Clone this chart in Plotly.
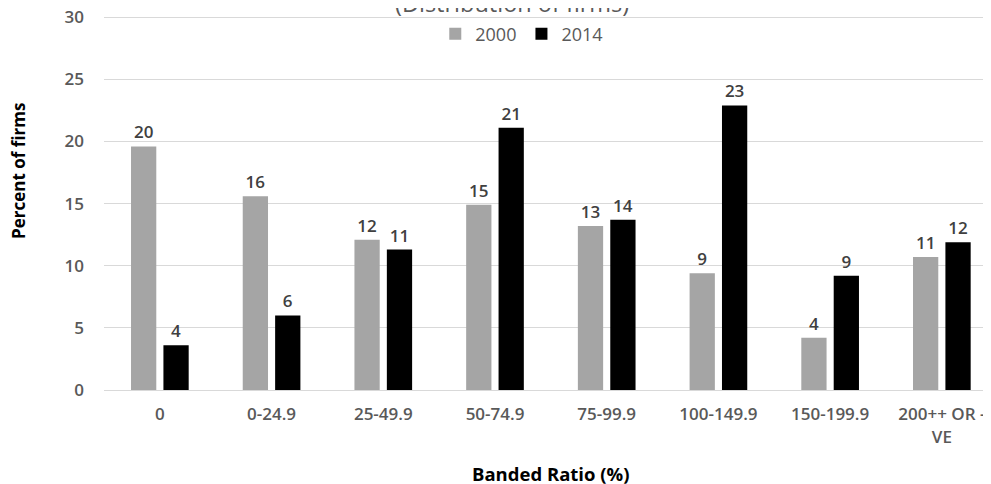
import plotly.graph_objects as go

categories = ["0", "0-24.9", "25-49.9", "50-74.9", "75-99.9", "100-149.9", "150-199.9", "200++ OR -<br>VE"]
values_2000 = [19.6, 15.6, 12.1, 14.9, 13.2, 9.4, 4.2, 10.7]
values_2014 = [3.6, 6.0, 11.3, 21.1, 13.7, 22.9, 9.2, 11.9]
series_names = ["2000", "2014"]
y_ticks = [0, 5, 10, 15, 20, 25, 30]

FONT = "'Open Sans', 'Segoe UI', sans-serif"
xs = list(range(len(categories)))

label_font = dict(family=FONT, size=17, color="#404040", weight=600)

fig = go.Figure()
fig.add_trace(go.Bar(
    x=xs, y=values_2000, name=series_names[0],
    marker=dict(color="#a5a5a5", line=dict(width=0)),
    texttemplate="%{y:.0f}", textposition="outside", cliponaxis=False,
    textfont=label_font,
))
fig.add_trace(go.Bar(
    x=xs, y=values_2014, name=series_names[1],
    marker=dict(color="#000000", line=dict(width=0)),
    texttemplate="%{y:.0f}", textposition="outside", cliponaxis=False,
    textfont=label_font,
))

fig.update_layout(
    width=983, height=476,
    margin=dict(l=96, r=0, t=8, b=94, autoexpand=False),
    paper_bgcolor="white", plot_bgcolor="white",
    barmode="group", bargap=0.42, bargroupgap=0.22,
    font=dict(family=FONT, size=17, color="#595959"),
    showlegend=True,
    legend=dict(orientation="h", x=0.471, xanchor="center", y=0.952, yanchor="middle",
                font=dict(family=FONT, size=18, color="#595959"),
                bgcolor="rgba(0,0,0,0)", itemwidth=30, traceorder="normal"),
    xaxis=dict(
        tickmode="array", tickvals=xs, ticktext=categories,
        range=[-0.5, 7.44], showgrid=False, zeroline=False,
        showline=True, linecolor="#d9d9d9", linewidth=1,
        ticks="", tickfont=dict(family=FONT, size=17, color="#595959", weight=600),
        ticklabelstandoff=9, ticklabeloverflow="allow", automargin=False,
    ),
    yaxis=dict(
        range=[0, 30.1], tickvals=y_ticks, showgrid=True, gridcolor="#d9d9d9",
        gridwidth=1, zeroline=False, showline=False, ticks="",
        tickfont=dict(family=FONT, size=17, color="#595959", weight=600),
        ticklabelstandoff=19, ticklabeloverflow="allow", automargin=False,
    ),
    annotations=[
        dict(text="(Distribution of firms)", xref="paper", yref="paper",
             x=0.46, y=1.0349, xanchor="center", yanchor="middle", showarrow=False,
             font=dict(family=FONT, size=23.5, color="#595959")),
        dict(text="<b>Percent of firms</b>", xref="paper", yref="paper",
             x=-0.0964, y=0.587, xanchor="center", yanchor="middle", showarrow=False,
             textangle=-90, font=dict(family=FONT, size=17, color="#000000")),
        dict(text="<b>Banded Ratio (%)</b>", xref="paper", yref="paper",
             x=0.503, y=-0.2225, xanchor="center", yanchor="middle", showarrow=False,
             font=dict(family=FONT, size=18.5, color="#000000")),
    ],
)

fig.write_html("out.html")
